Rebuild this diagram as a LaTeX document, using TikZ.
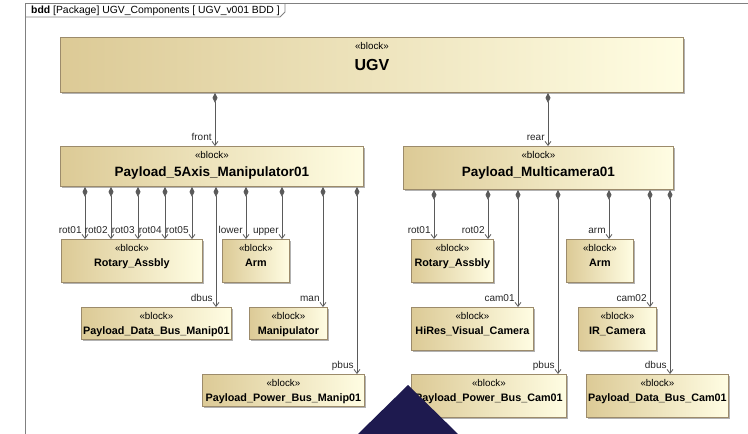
\documentclass[tikz,border=0pt]{standalone}
\usepackage{fontspec}
\setmainfont{Liberation Sans}
\usetikzlibrary{arrows.meta,shadows,calc}
\definecolor{blkL}{HTML}{DCCA96}
\definecolor{blkR}{HTML}{FFFDE3}
\definecolor{blkB}{HTML}{9C8B6B}
\definecolor{conn}{HTML}{5A5A5A}
\definecolor{framec}{HTML}{808080}
\definecolor{tri}{HTML}{1E1A4F}
\tikzset{
  blkbox/.style={draw=blkB, line width=0.8pt, left color=blkL, right color=blkR,
    drop shadow={shadow xshift=1.8pt, shadow yshift=-1.8pt, fill=black!30, opacity=1},
    inner sep=0pt},
  blktext/.style={align=center, inner sep=0pt, text=black},
  comp/.style={draw=conn, line width=0.8pt,
    arrows={Diamond[length=10pt,width=5pt]-Straight Barb[length=4pt,width=6pt]}},
  lbl/.style={font=\fontsize{10}{12}\selectfont, text=black!85, inner sep=0pt,
    anchor=base east, xshift=-3pt, yshift=5.5pt},
  framel/.style={draw=framec, line width=0.8pt},
}
\newcommand\mkblock[8]{%
  \node[blkbox, anchor=north west, minimum width={#4-#2}, minimum height={#5-#3}] (#1) at (#2,#3) {};
  \node[blktext, anchor=north, font=\fontsize{9.8}{#8}\selectfont] (#1-t) at ([yshift=-4.8pt]#1.north)
    {«block»\\{\bfseries\fontsize{#7}{#8}\selectfont #6}};
}
\begin{document}
\begin{tikzpicture}[x=1pt,y=-1pt]
\useasboundingbox (0,0) rectangle (748,434);
% frame
\draw[framel] (25,434) -- (25,3) -- (748,3);
\draw[framel] (25,17) -- (280,17) -- (285,12) -- (285,3);
\node[anchor=west, inner sep=0pt, font=\fontsize{10.4}{12}\selectfont] (tab) at (31,10.5)
  {\textbf{bdd} [Package] UGV\_Components [ UGV\_v001 BDD ]};
% blocks
\mkblock{UGV}{60}{37}{683}{92}{UGV}{16}{21}
\mkblock{P5}{60}{146}{363}{186}{Payload\_5Axis\_Manipulator01}{13.5}{18.5}
\mkblock{PM}{403}{146}{673}{189}{Payload\_Multicamera01}{13.5}{18.5}
\mkblock{RotL}{61}{239}{202}{282}{Rotary\_Assbly}{10.8}{15}
\mkblock{ArmL}{222}{239}{289}{282}{Arm}{10.8}{15}
\mkblock{RotR}{411}{239}{493}{282}{Rotary\_Assbly}{10.8}{15}
\mkblock{ArmR}{566}{239}{633}{282}{Arm}{10.8}{15}
\mkblock{DBM}{81}{307}{231}{339}{Payload\_Data\_Bus\_Manip01}{10.8}{15}
\mkblock{Man}{249}{307}{327}{339}{Manipulator}{10.8}{15}
\mkblock{PBM}{202}{374}{364}{406}{Payload\_Power\_Bus\_Manip01}{10.8}{15}
\mkblock{HiRes}{411}{307}{533}{350}{HiRes\_Visual\_Camera}{10.8}{15}
\mkblock{IR}{578}{307}{656}{350}{IR\_Camera}{10.8}{15}
\mkblock{PBC}{411}{374}{566}{417}{Payload\_Power\_Bus\_Cam01}{10.8}{15}
\mkblock{DBC}{586}{374}{728}{417}{Payload\_Data\_Bus\_Cam01}{10.8}{15}
% connectors from UGV
\draw[comp] (215,0 |- UGV.south) -- (215,0 |- P5.north) node[lbl] (l-front) {front};
\draw[comp] (548,0 |- UGV.south) -- (548,0 |- PM.north) node[lbl] (l-rear) {rear};
% connectors from Payload_5Axis_Manipulator01
\draw[comp] (85,0 |- P5.south) -- (85,0 |- RotL.north) node[lbl] (l-r1) {rot01};
\draw[comp] (111,0 |- P5.south) -- (111,0 |- RotL.north) node[lbl] (l-r2) {rot02};
\draw[comp] (138,0 |- P5.south) -- (138,0 |- RotL.north) node[lbl] (l-r3) {rot03};
\draw[comp] (165,0 |- P5.south) -- (165,0 |- RotL.north) node[lbl] (l-r4) {rot04};
\draw[comp] (192,0 |- P5.south) -- (192,0 |- RotL.north) node[lbl] (l-r5) {rot05};
\draw[comp] (216,0 |- P5.south) -- (216,0 |- DBM.north) node[lbl] (l-dbus1) {dbus};
\draw[comp] (246,0 |- P5.south) -- (246,0 |- ArmL.north) node[lbl] (l-lower) {lower};
\draw[comp] (282,0 |- P5.south) -- (282,0 |- ArmL.north) node[lbl] (l-upper) {upper};
\draw[comp] (323,0 |- P5.south) -- (323,0 |- Man.north) node[lbl] (l-man) {man};
\draw[comp] (357,0 |- P5.south) -- (357,0 |- PBM.north) node[lbl] (l-pbus1) {pbus};
% connectors from Payload_Multicamera01
\draw[comp] (434,0 |- PM.south) -- (434,0 |- RotR.north) node[lbl] (l-rr1) {rot01};
\draw[comp] (488,0 |- PM.south) -- (488,0 |- RotR.north) node[lbl] (l-rr2) {rot02};
\draw[comp] (518,0 |- PM.south) -- (518,0 |- HiRes.north) node[lbl] (l-cam1) {cam01};
\draw[comp] (558,0 |- PM.south) -- (558,0 |- PBC.north) node[lbl] (l-pbus2) {pbus};
\draw[comp] (609,0 |- PM.south) -- (609,0 |- ArmR.north) node[lbl] (l-arm) {arm};
\draw[comp] (650,0 |- PM.south) -- (650,0 |- IR.north) node[lbl] (l-cam2) {cam02};
\draw[comp] (670,0 |- PM.south) -- (670,0 |- DBC.north) node[lbl] (l-dbus2) {dbus};
% overlay triangle
\fill[tri] (408,385) -- (458,434) -- (358,434) -- cycle;
\end{tikzpicture}
\end{document}
